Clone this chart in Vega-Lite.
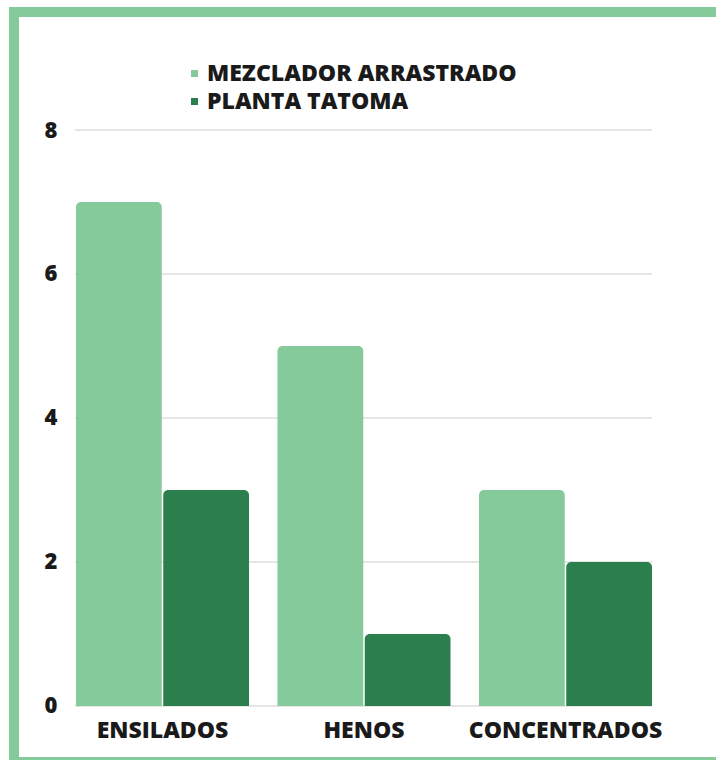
{
  "$schema": "https://vega.github.io/schema/vega-lite/v6.json",
  "width": 712,
  "height": 750,
  "autosize": {"type": "none"},
  "padding": {"left": 14, "top": 12, "right": -10, "bottom": -2},
  "background": "white",
  "config": {
    "view": {"stroke": "#85CA9B", "strokeWidth": 10, "fill": "white"},
    "font": "Open Sans"
  },
  "datasets": {
    "bars": [
      {"categoria": "ENSILADOS", "serie": "MEZCLADOR ARRASTRADO", "valor": 7},
      {"categoria": "ENSILADOS", "serie": "PLANTA TATOMA", "valor": 3},
      {"categoria": "HENOS", "serie": "MEZCLADOR ARRASTRADO", "valor": 5},
      {"categoria": "HENOS", "serie": "PLANTA TATOMA", "valor": 1},
      {"categoria": "CONCENTRADOS", "serie": "MEZCLADOR ARRASTRADO", "valor": 3},
      {"categoria": "CONCENTRADOS", "serie": "PLANTA TATOMA", "valor": 2}
    ],
    "grid": [{"v": 0}, {"v": 2}, {"v": 4}, {"v": 6}, {"v": 8}]
  },
  "layer": [
    {
      "data": {"name": "grid"},
      "mark": {"type": "rule", "color": "#cccccc", "strokeWidth": 1},
      "encoding": {
        "y": {
          "field": "v", "type": "quantitative",
          "scale": {"domain": [-0.7778, 9.6389], "nice": false, "zero": false},
          "axis": {"title": null, "values": [0, 2, 4, 6, 8], "format": "d", "offset": -43, "domain": false, "ticks": false, "grid": false, "labelPadding": 0, "labelFontSize": 22, "labelFontWeight": 800, "labelColor": "#1a1a1a"}
        },
        "x": {"datum": 0, "type": "quantitative", "scale": {"domain": [0, 1], "range": [61, 638]}, "axis": null},
        "x2": {"datum": 1}
      }
    },
    {
      "data": {"name": "bars"},
      "mark": {"type": "bar", "cornerRadiusTopLeft": 5, "cornerRadiusTopRight": 5},
      "encoding": {
        "x": {
          "field": "categoria", "type": "nominal",
          "sort": ["ENSILADOS", "HENOS", "CONCENTRADOS"],
          "scale": {"range": [62, 638], "paddingInner": 0.1414, "paddingOuter": 0},
          "axis": {"title": null, "orient": "bottom", "offset": -56, "domain": false, "ticks": false, "labelPadding": 13, "labelFontSize": 23, "labelFontWeight": 800, "labelColor": "#1a1a1a", "labelAngle": 0, "labelLimit": 0, "labelOverlap": false}
        },
        "xOffset": {
          "field": "serie", "type": "nominal",
          "sort": ["MEZCLADOR ARRASTRADO", "PLANTA TATOMA"],
          "scale": {"paddingInner": 0.017, "paddingOuter": 0}
        },
        "y": {
          "field": "valor", "type": "quantitative", "stack": null,
          "scale": {"domain": [-0.7778, 9.6389], "nice": false, "zero": false},
          "axis": {"title": null, "values": [0, 2, 4, 6, 8], "format": "d", "offset": -43, "domain": false, "ticks": false, "grid": false, "labelPadding": 0, "labelFontSize": 22, "labelFontWeight": 800, "labelColor": "#1a1a1a"}
        },
        "color": {
          "field": "serie", "type": "nominal",
          "scale": {"domain": ["MEZCLADOR ARRASTRADO", "PLANTA TATOMA"], "range": ["#85CA9B", "#2A7F4C"]},
          "legend": {"title": null, "orient": "none", "legendX": 169, "legendY": 50, "symbolType": "square", "symbolSize": 49, "symbolStrokeWidth": 0, "labelFontSize": 23, "labelFontWeight": 800, "labelColor": "#1a1a1a", "labelOffset": 1, "rowPadding": 4, "padding": 0, "labelLimit": 0}
        }
      }
    }
  ],
  "resolve": {"scale": {"x": "independent"}}
}
